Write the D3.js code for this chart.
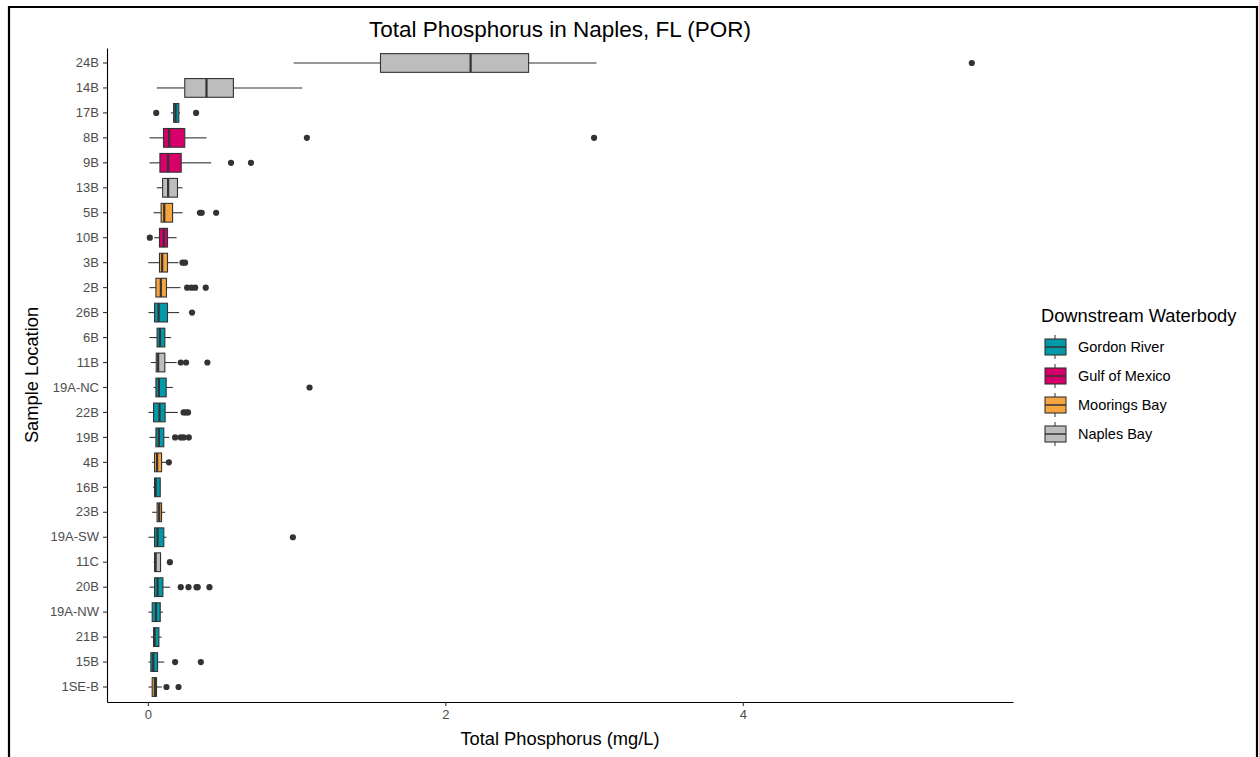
<!DOCTYPE html>
<html><head><meta charset="utf-8">
<script src="https://cdn.jsdelivr.net/npm/d3@7"></script>
<style>body{margin:0;background:#fff;}svg{display:block;font-family:"Liberation Sans",Arial,sans-serif;}</style>
</head><body><svg id="chart" width="1259" height="757"></svg>
<script>
// Categories from top to bottom
const sites = ["24B","14B","17B","8B","9B","13B","5B","10B","3B","2B","26B","6B","11B","19A-NC","22B","19B","4B","16B","23B","19A-SW","11C","20B","19A-NW","21B","15B","1SE-B"];
const waterbody = ["Naples Bay","Naples Bay","Gordon River","Gulf of Mexico","Gulf of Mexico","Naples Bay","Moorings Bay","Gulf of Mexico","Moorings Bay","Moorings Bay","Gordon River","Gordon River","Naples Bay","Gordon River","Gordon River","Gordon River","Moorings Bay","Gordon River","Moorings Bay","Gordon River","Naples Bay","Gordon River","Gordon River","Gordon River","Gordon River","Moorings Bay"];
const whiskerLow  = [0.98,0.06,0.154,0.011,0.011,0.06,0.038,0.043,0.002,0.011,0.004,0.011,0.02,0.038,0.004,0.011,0.029,0.036,0.029,0.004,0.038,0.011,0.004,0.02,0.004,0.004];
const q1          = [1.564,0.248,0.173,0.105,0.081,0.099,0.089,0.078,0.078,0.054,0.045,0.062,0.056,0.054,0.038,0.054,0.045,0.045,0.062,0.045,0.045,0.045,0.029,0.038,0.02,0.029];
const median      = [2.17,0.394,0.186,0.143,0.136,0.136,0.11,0.107,0.096,0.087,0.072,0.081,0.069,0.074,0.078,0.074,0.062,0.052,0.076,0.065,0.052,0.065,0.054,0.045,0.036,0.047];
const q3          = [2.56,0.575,0.208,0.248,0.224,0.199,0.166,0.132,0.132,0.125,0.132,0.114,0.114,0.123,0.116,0.107,0.092,0.083,0.092,0.107,0.085,0.101,0.083,0.074,0.065,0.058];
const whiskerHigh = [3.016,1.038,0.215,0.394,0.425,0.233,0.233,0.193,0.206,0.219,0.21,0.156,0.193,0.168,0.201,0.143,0.125,0.085,0.116,0.125,0.087,0.15,0.101,0.092,0.11,0.094];
const outliers = [[5.54],[],[0.056,0.324],[1.069,3.0],[0.559,0.693],[],[0.35,0.362,0.459],[0.013],[0.233,0.25],[0.264,0.293,0.318,0.389],[0.297],[],[0.221,0.257,0.4],[1.087],[0.24,0.255,0.27],[0.183,0.221,0.24,0.275],[0.141],[],[],[0.975],[0.148],[0.221,0.273,0.327,0.335,0.414],[],[],[0.183,0.356],[0.125,0.206]];
const groups = ["Gordon River","Gulf of Mexico","Moorings Bay","Naples Bay"];
const groupColors = ["#0099A8","#D6006A","#F5A540","#BDBDBD"];
const xTicks = [0,2,4];

const svg = d3.select("#chart");
const panel = {left:107, right:1013, top:48, bottom:702};

// frame
svg.append("path").attr("d","M9,760 V7 H1257 V760").attr("fill","none").attr("stroke","#000").attr("stroke-width",2.2);

const allVals = whiskerLow.concat(whiskerHigh, outliers.flat());
const mn = d3.min(allVals), mx = d3.max(allVals), pad = (mx-mn)*0.05;
const x = d3.scaleLinear().domain([mn-pad, mx+pad]).range([panel.left, panel.right]);
const y = d3.scaleBand().domain(sites).range([panel.top, panel.bottom]).paddingOuter(0.1).paddingInner(0);
const color = d3.scaleOrdinal().domain(groups).range(groupColors);
const bh = y.bandwidth()*0.75;

const data = sites.map((s,i)=>({site:s, wb:waterbody[i], lo:whiskerLow[i], q1:q1[i], med:median[i], q3:q3[i], hi:whiskerHigh[i], out:outliers[i]}));

const g = svg.append("g");
const rows = g.selectAll("g.row").data(data).join("g").attr("class","row")
  .attr("transform", d=>`translate(0,${y(d.site)+y.bandwidth()/2})`);
const stroke = "#333333";
rows.append("line").attr("x1",d=>x(d.lo)).attr("x2",d=>x(d.q1)).attr("stroke",stroke).attr("stroke-width",1.1);
rows.append("line").attr("x1",d=>x(d.q3)).attr("x2",d=>x(d.hi)).attr("stroke",stroke).attr("stroke-width",1.1);
rows.append("rect").attr("x",d=>x(d.q1)).attr("width",d=>Math.max(0.5,x(d.q3)-x(d.q1)))
  .attr("y",-bh/2).attr("height",bh).attr("fill",d=>color(d.wb)).attr("stroke",stroke).attr("stroke-width",1.1);
rows.append("line").attr("x1",d=>x(d.med)).attr("x2",d=>x(d.med)).attr("y1",-bh/2).attr("y2",bh/2)
  .attr("stroke",stroke).attr("stroke-width",2.2);
rows.selectAll("circle").data(d=>d.out).join("circle").attr("cx",v=>x(v)).attr("cy",0).attr("r",3.1).attr("fill","#333");

// axes
const xAxis = d3.axisBottom(x).tickValues(xTicks).tickFormat(d3.format("d")).tickSize(4).tickSizeOuter(0).tickPadding(4);
const gx = svg.append("g").attr("transform",`translate(0,${panel.bottom})`).call(xAxis);
gx.select(".domain").attr("stroke","#000").attr("stroke-width",1.1);
gx.selectAll(".tick line").attr("stroke","#333").attr("stroke-width",1.1);
gx.selectAll(".tick text").attr("fill","#4D4D4D").attr("font-size",13).attr("font-family","Liberation Sans, Arial, sans-serif");
const yAxis = d3.axisLeft(y).tickSize(4).tickSizeOuter(0).tickPadding(4);
const gy = svg.append("g").attr("transform",`translate(${panel.left},0)`).call(yAxis);
gy.select(".domain").attr("stroke","#000").attr("stroke-width",1.1);
gy.selectAll(".tick line").attr("stroke","#333").attr("stroke-width",1.1);
gy.selectAll(".tick text").attr("fill","#4D4D4D").attr("font-size",13).attr("font-family","Liberation Sans, Arial, sans-serif");

// titles
svg.append("text").attr("x",560).attr("y",37).attr("text-anchor","middle").attr("font-size",22.5).attr("fill","#000").text("Total Phosphorus in Naples, FL (POR)");
svg.append("text").attr("x",560).attr("y",745).attr("text-anchor","middle").attr("font-size",18.3).attr("fill","#000").text("Total Phosphorus (mg/L)");
svg.append("text").attr("transform","translate(38,375) rotate(-90)").attr("text-anchor","middle").attr("font-size",18.3).attr("fill","#000").text("Sample Location");

// legend
const lg = svg.append("g").attr("transform","translate(1041,0)");
lg.append("text").attr("x",0).attr("y",322).attr("font-size",18.3).attr("fill","#000").text("Downstream Waterbody");
const items = lg.selectAll("g.item").data(groups).join("g").attr("class","item")
  .attr("transform",(d,i)=>`translate(0,${347+i*29})`);
items.append("line").attr("x1",14).attr("x2",14).attr("y1",-12).attr("y2",12).attr("stroke","#333").attr("stroke-width",1);
items.append("rect").attr("x",4).attr("y",-8).attr("width",21).attr("height",16).attr("fill",d=>color(d)).attr("stroke","#333").attr("stroke-width",1.1);
items.append("line").attr("x1",4).attr("x2",25).attr("y1",0).attr("y2",0).attr("stroke","#333").attr("stroke-width",1.5);
items.append("text").attr("x",37).attr("y",5).attr("font-size",14.5).attr("fill","#000").text(d=>d);
</script></body></html>
